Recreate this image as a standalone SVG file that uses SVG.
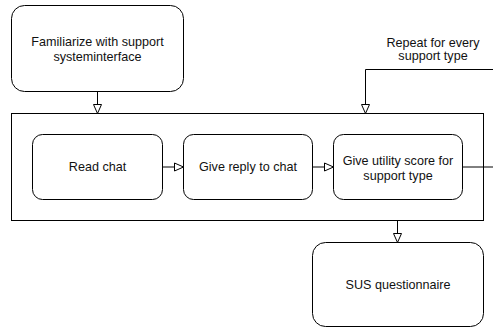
<svg xmlns="http://www.w3.org/2000/svg" width="493" height="327" viewBox="0 0 493 327">
<style>
.node{fill:#fff;stroke:#000;stroke-width:1}
.t{font-family:"Liberation Sans",Arial,sans-serif;font-size:12.6px;fill:#111;text-anchor:middle}
.c{fill:none;stroke:#000;stroke-width:1}
</style>
<defs>
<marker id="open" viewBox="-1 -1 11 10" refX="9" refY="4" markerWidth="11" markerHeight="10" orient="auto" markerUnits="userSpaceOnUse">
<path d="M0,0 L9,4 L0,8 Z" fill="#fff" stroke="#000" stroke-width="1"/>
</marker>
</defs>
<g id="container"><rect class="node" x="11.5" y="113.5" width="472" height="107"/></g>
<g id="familiarize"><rect class="node" x="11.5" y="5.5" width="172" height="86" rx="13"/>
<text class="t" x="97.5" y="46">Familiarize with support</text>
<text class="t" x="97.5" y="61">systeminterface</text></g>
<g id="readchat"><rect class="node" x="32.5" y="134.5" width="130" height="65" rx="10"/>
<text class="t" x="97.5" y="171">Read chat</text></g>
<g id="reply"><rect class="node" x="183.5" y="134.5" width="129" height="65" rx="10"/>
<text class="t" x="248" y="171">Give reply to chat</text></g>
<g id="utility"><rect class="node" x="333.5" y="134.5" width="129" height="65" rx="10"/>
<text class="t" x="398" y="165">Give utility score for</text>
<text class="t" x="398" y="180">support type</text></g>
<g id="sus"><rect class="node" x="312.5" y="242.5" width="171" height="84" rx="13"/>
<text class="t" x="398" y="289">SUS questionnaire</text></g>
<g id="connectors">
<path class="c" d="M97.5,91.5 V113.5" marker-end="url(#open)"/>
<path class="c" d="M162.5,167 H183.5" marker-end="url(#open)"/>
<path class="c" d="M312.5,167 H333.5" marker-end="url(#open)"/>
<path class="c" d="M462.5,167 H493"/>
<path class="c" d="M493,69.5 H365.5 V113.5" marker-end="url(#open)"/>
<path class="c" d="M397.5,220.5 V242.5" marker-end="url(#open)"/>
<text class="t" x="433" y="47">Repeat for every</text>
<text class="t" x="433" y="60">support type</text>
</g>
</svg>
